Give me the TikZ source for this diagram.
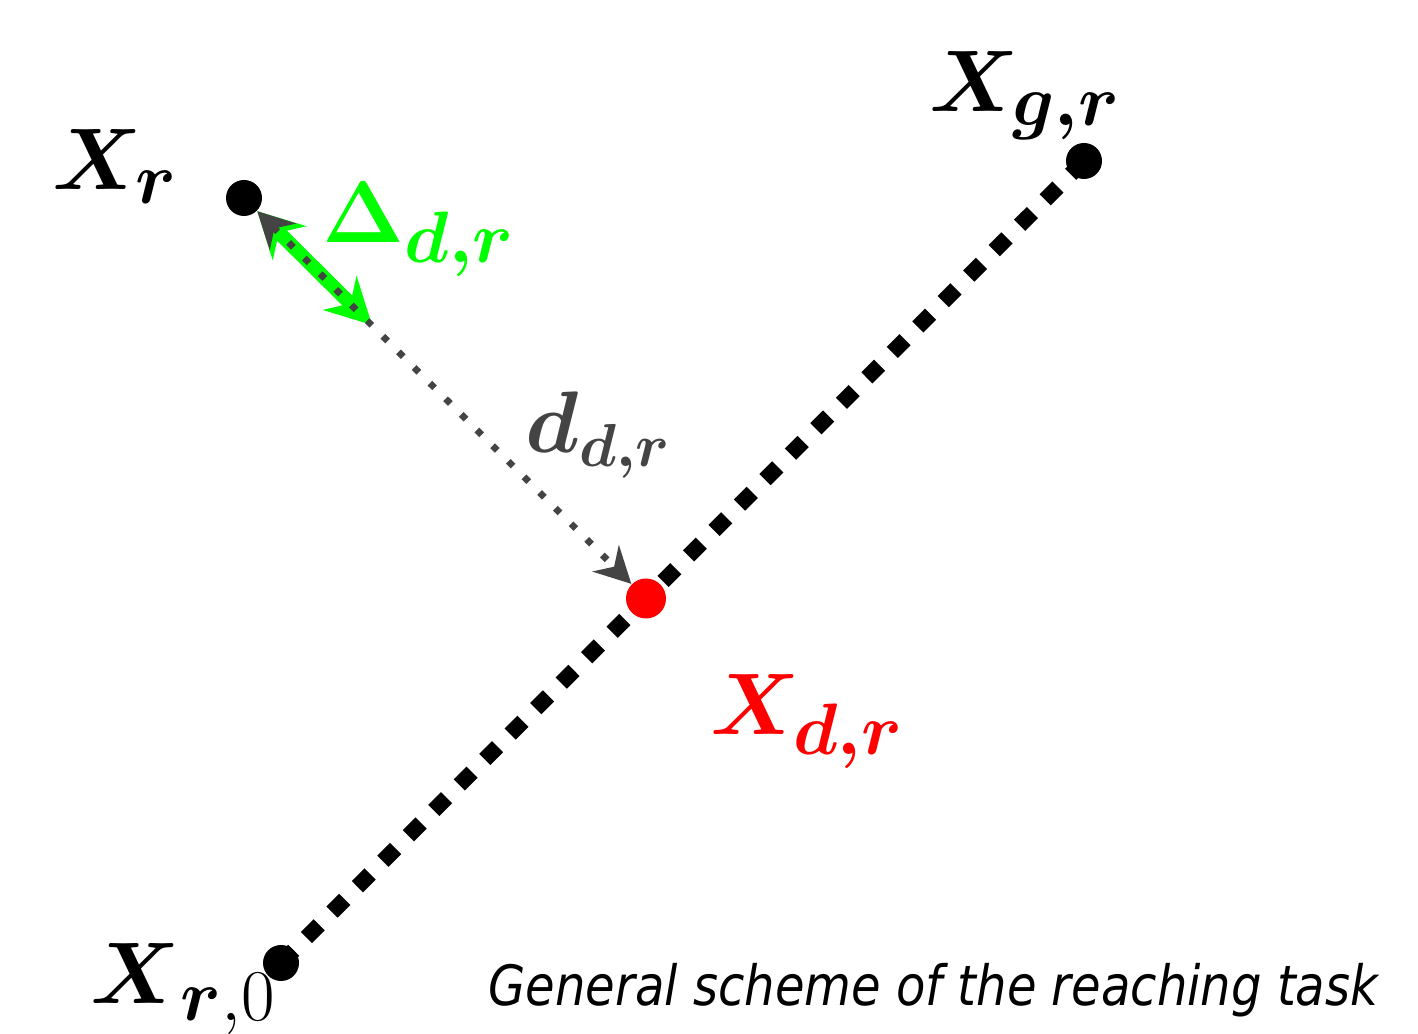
\documentclass[tikz,border=0pt]{standalone}
\usepackage{fontspec}
\usepackage{amsmath}
\newfontfamily\captionfont{DejaVu Sans}[FakeStretch=0.865]
\usetikzlibrary{positioning, arrows.meta}
\definecolor{dotgrey}{HTML}{444444}
\definecolor{deltagreen}{HTML}{00FF00}
\tikzset{
    point/.style={circle, fill=black, inner sep=0pt, minimum size=3.6mm},
    label/.style={anchor=base west, inner sep=0pt}
}

\begin{document}
\begin{tikzpicture}[font=\fontsize{29}{33}\selectfont]
                \useasboundingbox (0,0) rectangle (14.18,10.34);
                \node[point] (X0) at (2.81,0.71) {};
                \node[point] (Xg) at (10.84,8.73) {};
                \node[point] (Xr) at (2.44,8.36) {};
                \coordinate (gEnd) at (3.72,7.09);

                \draw[line width=4.5pt, dash pattern=on 1.8mm off 1.8mm] (X0.center) -- (Xg.center);
                \node[point, fill=red, minimum size=4mm] (Xd) at (6.46,4.355) {};

                \draw[deltagreen, line width=4pt, {Stealth[length=4.5mm,width=4.7mm]}-{Stealth[length=4.5mm,width=4.7mm]}] (Xr) -- (gEnd);
                \draw[dotgrey, line width=1.9pt, dash pattern=on 1.9pt off 4.4pt, {Stealth[length=3.6mm,width=3.7mm]}-{Stealth[length=3.6mm,width=3.7mm]}] (Xr) -- (Xd);

                \node[label] (Xr label) at (0.52,8.44) {$\boldsymbol{X_r}$};
                \node[label] (Xg label) at (9.29,9.22) {$\boldsymbol{X_{g,r}}$};
                \node[label] (X0 label) at (0.90,0.30) {$\boldsymbol{X}_{\boldsymbol{r},0}$};
                \node[label, text=deltagreen] (Delta label) at (3.22,7.91) {$\boldsymbol{\Delta_{d,r}}$};
                \node[label, text=dotgrey, font=\fontsize{23.5}{27}\selectfont] (d label) at (5.25,5.81) {$\boldsymbol{d_{d,r}}$};
                \node[label, text=red] (Xd label) at (7.10,2.99) {$\boldsymbol{X_{d,r}}$};

                \node[label, font=\captionfont\itshape\fontsize{15.8}{18}\selectfont] (caption) at (4.88,0.29) {General scheme of the reaching task};
            \end{tikzpicture}
\end{document}
